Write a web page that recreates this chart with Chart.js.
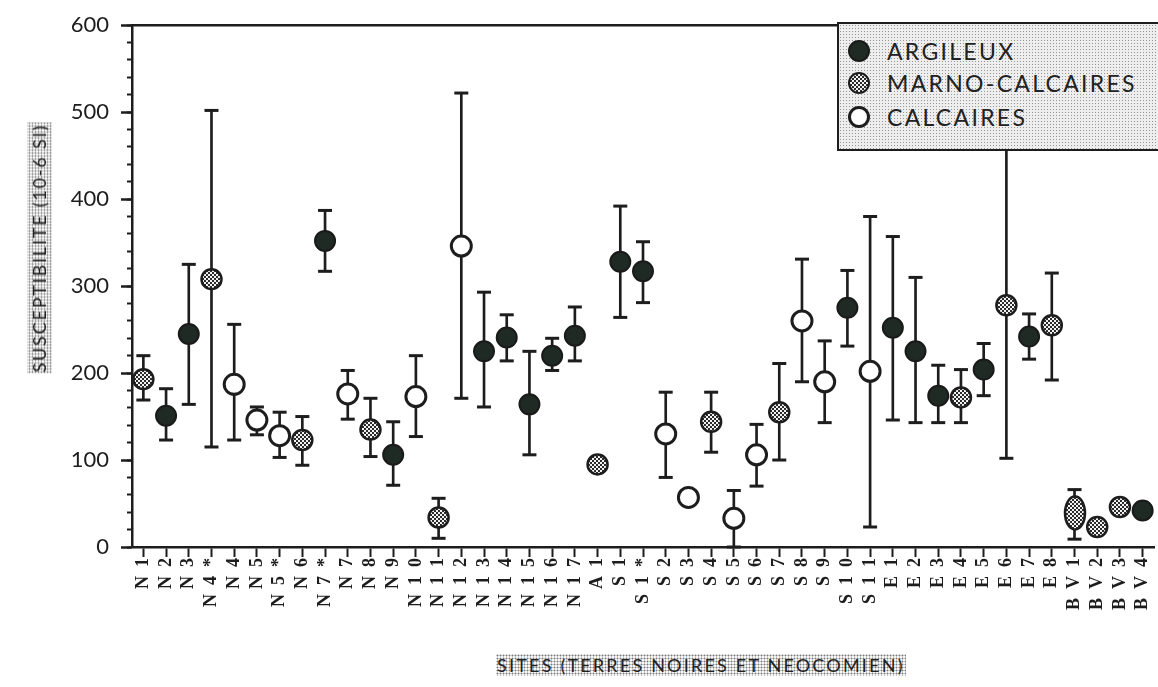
<!DOCTYPE html>
<html>
<head>
<meta charset="utf-8">
<script src="https://cdn.jsdelivr.net/npm/chart.js@4.4.1/dist/chart.umd.min.js"></script>
<style>
  html, body { margin: 0; padding: 0; background: #fff; overflow: hidden; }
  #wrap { position: relative; width: 1167px; height: 687px; }
  .stipple {
    background-color: #f6f6f6;
    background-image: radial-gradient(circle, #7c7c7c 0.8px, transparent 1.15px);
    background-size: 3px 3px;
  }
  #ytitle {
    position: absolute; left: 27px; top: 123px;
    writing-mode: vertical-rl; transform: rotate(180deg);
    font: 18px Lato; letter-spacing: 1.8px; color: #222; line-height: 23px; padding: 1px 1px;
  }
  #xtitle {
    position: absolute; left: 496px; top: 654px;
    font: 18px Lato; letter-spacing: 2.2px; color: #222; line-height: 22px; padding: 0 1px;
  }
  #legend {
    position: absolute; left: 837px; top: 22px; width: 360px; height: 129px;
    box-sizing: border-box; border: 2.5px solid #1d1d1d;
    background-color: #eeeeee;
    background-image: radial-gradient(circle, #949494 0.7px, transparent 1px);
    background-size: 3px 3px;
  }
  .row { position: absolute; left: 0; height: 30px; display: flex; align-items: center; font: 23px Lato; letter-spacing: 2.3px; color: #222; }
  .mk { width: 22px; height: 22px; border-radius: 50%; box-sizing: border-box; margin: 0 17px 0 9px; }
  .mk.arg { background: #1f2a25; border: 2px solid #1a1a1a; }
  .mk.mar { background: repeating-conic-gradient(#2b2b2b 0 25%, #f2f2f2 0 50%) 0 0 / 4px 4px; border: 2.5px solid #1d1d1d; }
  .mk.cal { background: #fff; border: 3px solid #1d1d1d; }
</style>
</head>
<body>
<div id="wrap">
  <canvas id="chart" width="1167" height="687"></canvas>
  <div id="ytitle" class="stipple">SUSCEPTIBILITE (10-6 SI)</div>
  <div id="xtitle" class="stipple">SITES (TERRES NOIRES ET NEOCOMIEN)</div>
  <div id="legend">
    <div class="row" style="top:12px"><span class="mk arg"></span>ARGILEUX</div>
    <div class="row" style="top:44px"><span class="mk mar"></span>MARNO-CALCAIRES</div>
    <div class="row" style="top:78px"><span class="mk cal"></span>CALCAIRES</div>
  </div>
</div>
<script>
var sites = ['N1','N2','N3','N4*','N4','N5','N5*','N6','N7*','N7','N8','N9','N10','N11','N12','N13','N14','N15','N16','N17',
             'A1','S1','S1*','S2','S3','S4','S5','S6','S7','S8','S9','S10','S11',
             'E1','E2','E3','E4','E5','E6','E7','E8','BV1','BV2','BV3','BV4'];
// A = argileux, M = marno-calcaires, C = calcaires
var facies = ['M','A','A','M','C','C','C','M','A','C','M','A','C','M','C','A','A','A','A','A',
              'M','A','A','C','C','M','C','C','M','C','C','A','C',
              'A','A','A','M','A','M','A','M','M','M','M','A'];
var means = [193,151,245,308,187,146,128,123,352,176,135,106,173,34,346,225,241,164,220,243,
             95,328,317,130,57,144,33,106,155,260,190,275,202,
             252,225,174,172,204,278,242,255,39,23,46,42];
var lows  = [169,123,164,115,123,129,103,94,317,147,104,71,127,10,171,161,214,106,203,214,
             null,264,281,80,null,109,0,70,100,190,143,231,23,
             146,143,143,143,174,102,216,192,9,null,null,null];
var highs = [220,182,325,502,256,161,155,150,387,203,171,144,220,56,522,293,267,225,240,276,
             null,392,351,178,null,178,65,141,211,331,237,318,380,
             357,310,209,204,234,470,268,315,66,null,null,null];
var ovalSites = ['BV1'];

var ink = '#1d1d1d';
var dark = '#1f2a25';

// checkered fill for the marno-calcaire symbols
function stipple(ctx) {
    var tile = document.createElement('canvas');
    tile.width = tile.height = 4;
    var t = tile.getContext('2d');
    t.fillStyle = '#f2f2f2';
    t.fillRect(0, 0, 4, 4);
    t.fillStyle = '#2b2b2b';
    t.fillRect(0, 0, 2, 2);
    t.fillRect(2, 2, 2, 2);
    return ctx.createPattern(tile, 'repeat');
}

var ctx = document.getElementById('chart').getContext('2d');
var dots = stipple(ctx);

// stretched symbol used where two samples overlap
var oval = document.createElement('canvas');
oval.width = 26; oval.height = 40;
var o = oval.getContext('2d');
o.beginPath();
o.ellipse(13, 20, 10, 16.5, 0, 0, Math.PI * 2);
o.fillStyle = stipple(o);
o.fill();
o.lineWidth = 2.5;
o.strokeStyle = ink;
o.stroke();

function only(code) {
    return means.map(function (v, i) { return facies[i] === code ? v : null; });
}

// keep the oval's checker crisp when it lands between pixels
var crispImages = {
    id: 'crispImages',
    beforeDatasetsDraw: function (chart) { chart.ctx.imageSmoothingEnabled = false; }
};

var pointBase = {
    type: 'line', showLine: false, pointRadius: 10, pointHoverRadius: 10,
    pointBorderColor: ink, clip: false, order: 0
};

var chart = new Chart(ctx, {
    type: 'bar',
    data: {
        labels: sites,
        datasets: [
            Object.assign({}, pointBase, {
                label: 'ARGILEUX', data: only('A'),
                pointBackgroundColor: dark, pointBorderColor: '#1a1a1a', pointBorderWidth: 2
            }),
            Object.assign({}, pointBase, {
                label: 'MARNO-CALCAIRES', data: only('M'),
                pointBackgroundColor: dots, pointBorderWidth: 2.5,
                pointStyle: function (c) { return ovalSites.indexOf(sites[c.dataIndex]) >= 0 ? oval : 'circle'; }
            }),
            Object.assign({}, pointBase, {
                label: 'CALCAIRES', data: only('C'),
                pointBackgroundColor: '#ffffff', pointBorderWidth: 3
            }),
            {
                type: 'line', label: 'min', data: lows, showLine: false, clip: false, order: 2,
                pointStyle: 'line', pointRadius: 7, pointHoverRadius: 7, pointBorderWidth: 3, pointBorderColor: ink
            },
            {
                type: 'line', label: 'max', data: highs, showLine: false, clip: false, order: 2,
                pointStyle: 'line', pointRadius: 7, pointHoverRadius: 7, pointBorderWidth: 3, pointBorderColor: ink
            },
            {
                type: 'bar', label: 'range', order: 3,
                data: lows.map(function (lo, i) { return lo == null ? null : [lo, highs[i]]; }),
                backgroundColor: ink, borderWidth: 0, barThickness: 2
            }
        ]
    },
    plugins: [crispImages],
    options: {
        responsive: false,
        animation: false,
        devicePixelRatio: 1,
        layout: { padding: { top: 24, left: 0, right: 0, bottom: 0 } },
        plugins: { legend: { display: false }, tooltip: { enabled: false } },
        scales: {
            x: {
                type: 'category', offset: true,
                grid: { offset: false, drawOnChartArea: false, tickLength: 10, tickWidth: 2, tickColor: ink },
                border: { color: ink, width: 2.5 },
                ticks: {
                    autoSkip: false, minRotation: 90, maxRotation: 90, padding: 1, color: ink,
                    font: { family: 'Liberation Serif', size: 18, weight: 'bold' },
                    callback: function (v, i) { return sites[i].split('').join('\u2002'); }
                },
                afterFit: function (s) { s.height = 140; }
            },
            xTop: {
                type: 'category', position: 'top', offset: true,
                grid: { display: false },
                border: { color: ink, width: 2.5 },
                ticks: { display: false },
                afterFit: function (s) { s.height = 0; }
            },
            y: {
                min: 0, max: 600, weight: 1,
                ticks: { stepSize: 100, padding: 12, color: ink, font: { family: 'Lato', size: 22 } },
                grid: { drawOnChartArea: false, tickLength: 11, tickWidth: 2.5, tickColor: ink },
                border: { color: ink, width: 2.5 },
                afterFit: function (s) { s.width = 132; }
            },
            yMinor: {
                position: 'left', min: 0, max: 600, weight: 0,
                ticks: { display: false, stepSize: 20 },
                grid: { drawOnChartArea: false, tickLength: 5, tickWidth: 2, tickColor: ink },
                border: { display: false },
                afterFit: function (s) { s.width = 0; }
            }
        }
    }
});
</script>
</body>
</html>
